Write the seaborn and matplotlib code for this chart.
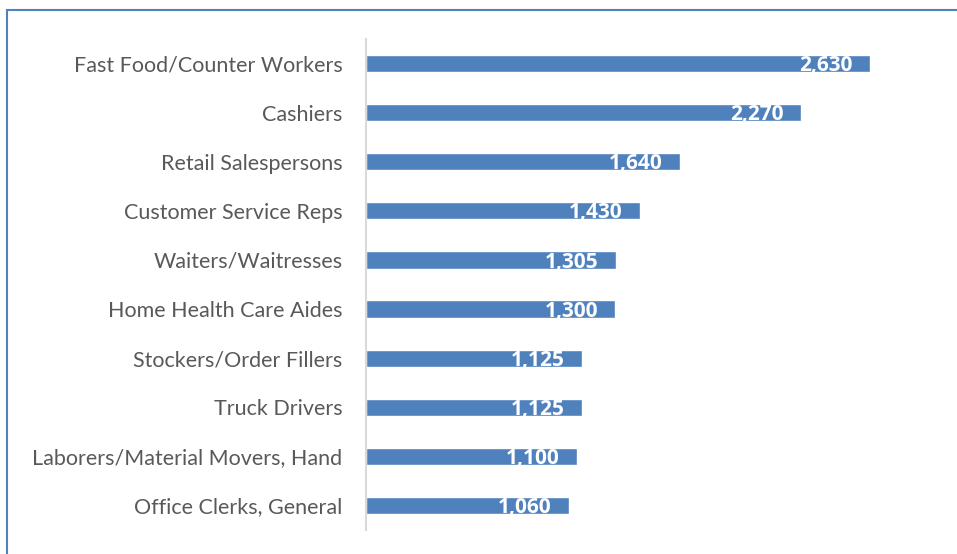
import matplotlib
matplotlib.use("Agg")
import matplotlib.pyplot as plt
import seaborn as sns
import pandas as pd
from matplotlib.patches import Rectangle

# data
occupations = ['Fast Food/Counter Workers', 'Cashiers', 'Retail Salespersons',
               'Customer Service Reps', 'Waiters/Waitresses', 'Home Health Care Aides',
               'Stockers/Order Fillers', 'Truck Drivers',
               'Laborers/Material Movers, Hand', 'Office Clerks, General']
counts = [2630, 2270, 1640, 1430, 1305, 1300, 1125, 1125, 1100, 1060]

df = pd.DataFrame({'Occupation': occupations, 'Count': counts})

sns.set_style('white')
plt.rcParams['font.family'] = ['Lato', 'DejaVu Sans']

fig = plt.figure(figsize=(9.57, 5.54), dpi=100)
ax = fig.add_axes([366 / 957, 1 - 530 / 554, (941 - 366) / 957, (530 - 39) / 554])

bar_color = '#4F81BD'
sns.barplot(data=df, y='Occupation', x='Count', color=bar_color, width=0.35,
            saturation=1, ax=ax, orient='h')

ax.set_xlim(0, 3000)
ax.set_ylim(9.5, -0.5)
ax.set_xlabel('')
ax.set_ylabel('')
ax.set_xticks([])
ax.tick_params(axis='y', length=0, pad=17, labelsize=15.5, labelcolor='#595959')
for s in ['top', 'right', 'bottom']:
    ax.spines[s].set_visible(False)
ax.spines['left'].set_color('#D9D9D9')
ax.spines['left'].set_linewidth(1.5)

for i, v in enumerate(counts):
    ax.annotate(f'{v:,}', xy=(v, i), xytext=(-12.5, -1.5), textcoords='offset points',
                ha='right', va='center', color='white', fontsize=15,
                fontweight='bold', family=['Open Sans', 'DejaVu Sans'])

# chart frame
fig.patches.append(Rectangle((7 / 957, -0.05), 1.1, 1 - 10 / 554 + 0.05,
                             transform=fig.transFigure, fill=False,
                             edgecolor='#4F81BD', linewidth=1.5))

fig.savefig('out.png', dpi=100)
